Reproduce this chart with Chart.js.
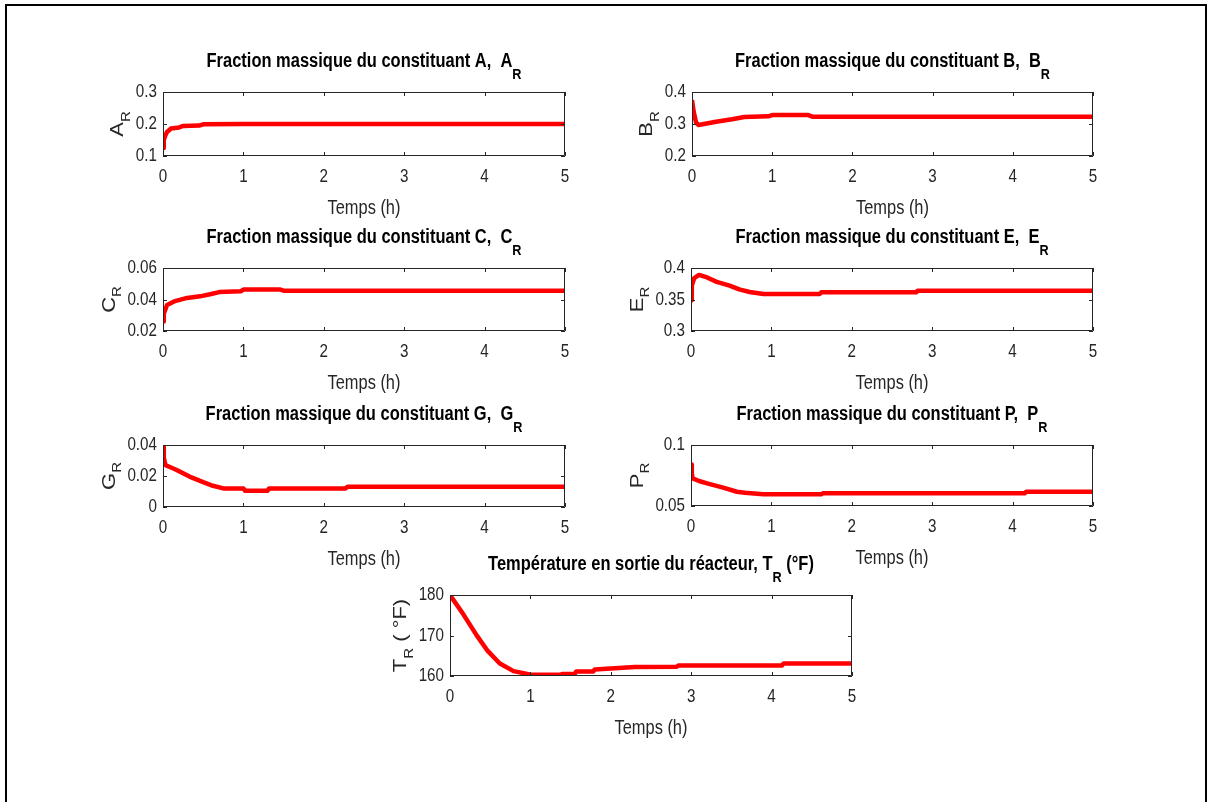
<!DOCTYPE html>
<html>
<head>
<meta charset="utf-8">
<script src="https://cdn.jsdelivr.net/npm/chart.js@4.4.1/dist/chart.umd.min.js"></script>
<style>
  html, body { margin: 0; padding: 0; background: #fff; }
  body { width: 1208px; height: 802px; position: relative; overflow: hidden; }
  #frame { position: absolute; left: 5px; top: 4px; width: 1198px; height: 900px;
           border: 2px solid #000; border-bottom: none; }
  canvas { position: absolute; }
</style>
</head>
<body>
<div id="frame"></div>
<script>
// time axis (h) and tick labels
const xTicks = [0, 1, 2, 3, 4, 5];

// A_R
const tA = [0, 0.01, 0.03, 0.05, 0.1, 0.2, 0.25, 0.45, 0.5, 1, 2, 3, 4, 5];
const aR = [0.125, 0.15, 0.165, 0.175, 0.186, 0.189, 0.194, 0.195, 0.199, 0.2, 0.2, 0.2, 0.2, 0.2];
const yTicksA = [0.1, 0.2, 0.3];

// B_R
const tB = [0, 0.02, 0.05, 0.08, 0.15, 0.3, 0.5, 0.65, 0.95, 1.0, 1.45, 1.5, 2, 3, 4, 5];
const bR = [0.375, 0.34, 0.305, 0.297, 0.3, 0.307, 0.315, 0.322, 0.324, 0.328, 0.328, 0.323, 0.323, 0.323, 0.323, 0.323];
const yTicksB = [0.2, 0.3, 0.4];

// C_R
const tC = [0, 0.01, 0.05, 0.15, 0.3, 0.46, 0.6, 0.7, 0.97, 1.0, 1.46, 1.5, 2, 3, 4, 5];
const cR = [0.026, 0.031, 0.0365, 0.039, 0.041, 0.042, 0.0435, 0.0447, 0.0453, 0.0463, 0.0463, 0.0456, 0.0456, 0.0456, 0.0456, 0.0456];
const yTicksC = [0.02, 0.04, 0.06];

// E_R
const tE = [0, 0.01, 0.04, 0.1, 0.2, 0.32, 0.48, 0.6, 0.73, 0.9, 1.6, 1.62, 2.8, 2.82, 4, 5];
const eR = [0.349, 0.372, 0.384, 0.389, 0.385, 0.378, 0.372, 0.366, 0.362, 0.3587, 0.3587, 0.3614, 0.3614, 0.364, 0.364, 0.364];
const yTicksE = [0.3, 0.35, 0.4];

// G_R
const tG = [0, 0.01, 0.03, 0.1, 0.17, 0.33, 0.5, 0.62, 0.75, 1.0, 1.02, 1.3, 1.32, 2.27, 2.3, 3, 4, 5];
const gR = [0.039, 0.032, 0.027, 0.0255, 0.0239, 0.0196, 0.016, 0.0137, 0.012, 0.012, 0.0105, 0.0105, 0.012, 0.012, 0.0131, 0.0131, 0.0131, 0.0131];
const yTicksG = [0, 0.02, 0.04];

// P_R
const tP = [0, 0.01, 0.02, 0.1, 0.2, 0.4, 0.57, 0.67, 0.9, 1.62, 1.64, 3, 4.15, 4.17, 5];
const pR = [0.084, 0.077, 0.0727, 0.0705, 0.0686, 0.065, 0.0617, 0.0609, 0.0596, 0.0596, 0.0604, 0.0604, 0.0604, 0.0617, 0.0617];
const yTicksP = [0.05, 0.1];

// T_R (°F)
const tT = [0, 0.17, 0.33, 0.46, 0.62, 0.79, 0.99, 1.37, 1.4, 1.55, 1.57, 1.78, 1.8, 2.05, 2.3, 2.82, 2.84, 4.13, 4.15, 5];
const tempR = [180, 175.1, 170.1, 166.4, 163.1, 161.2, 160.4, 160.3, 160.5, 160.5, 161.1, 161.1, 161.6, 161.9, 162.2, 162.3, 162.6, 162.6, 163.1, 163.1];
const yTicksT = [160, 170, 180];

// Arial-metric font squeezed sideways, like the narrowed original figure
const FONT = '"Liberation Sans", Arial, Helvetica, sans-serif';
const AXIS_COLOR = '#262626';

function setFont(ctx, size, bold) {
    ctx.font = (bold ? 'bold ' : '') + size + 'px ' + FONT;
}

// text pieces (some subscript) drawn centred on cx, scaled by sx / sy
function drawPieces(ctx, pieces, cx, cy, st) {
    const sy = st.sy || 1;
    let total = 0;
    pieces.forEach(p => {
        setFont(ctx, p.sub ? st.sub : st.size, st.bold);
        total += ctx.measureText(p.t).width * st.sx;
    });
    let x = cx - total / 2;
    ctx.textAlign = 'left';
    ctx.textBaseline = 'middle';
    pieces.forEach(p => {
        setFont(ctx, p.sub ? st.sub : st.size, st.bold);
        ctx.save();
        ctx.translate(x, p.sub ? cy + st.dy * sy : cy);
        ctx.scale(st.sx, sy);
        ctx.fillText(p.t, 0, 0);
        ctx.restore();
        x += ctx.measureText(p.t).width * st.sx;
    });
}

function drawLabel(ctx, text, x, y, align, size, sx) {
    setFont(ctx, size, false);
    ctx.save();
    ctx.translate(x, y);
    ctx.scale(sx, 1);
    ctx.textAlign = align;
    ctx.textBaseline = 'middle';
    ctx.fillText(text, 0, 0);
    ctx.restore();
}

const TITLE_ST = { size: 19.5, sub: 15, dy: 13, bold: true, sx: 0.845 };
const XLABEL_ST = { size: 20, sub: 14, dy: 10, bold: false, sx: 0.82 };
const YLABEL_ST = { size: 22, sub: 15, dy: 10, bold: false, sx: 1, sy: 0.85 };
const TICK_SIZE = 19, TICK_SX = 0.8;

const matlabAxes = {
    id: 'matlabAxes',
    afterDraw(chart, args, opts) {
        const { ctx, chartArea: a, scales: { x, y } } = chart;
        ctx.save();
        // box and inward ticks
        ctx.strokeStyle = AXIS_COLOR;
        ctx.lineWidth = 1;
        ctx.beginPath();
        ctx.rect(a.left + 0.5, a.top + 0.5, a.right - a.left - 1, a.bottom - a.top - 1);
        const tl = 4;
        x.ticks.forEach(t => {
            const px = Math.round(x.getPixelForValue(t.value)) + 0.5;
            ctx.moveTo(px, a.bottom); ctx.lineTo(px, a.bottom - tl);
            ctx.moveTo(px, a.top); ctx.lineTo(px, a.top + tl);
        });
        y.ticks.forEach(t => {
            const py = Math.round(y.getPixelForValue(t.value)) + 0.5;
            ctx.moveTo(a.left, py); ctx.lineTo(a.left + tl, py);
            ctx.moveTo(a.right, py); ctx.lineTo(a.right - tl, py);
        });
        ctx.stroke();

        // tick labels
        ctx.fillStyle = AXIS_COLOR;
        x.ticks.forEach(t => {
            drawLabel(ctx, t.label, x.getPixelForValue(t.value), a.bottom + 21, 'center', TICK_SIZE, TICK_SX);
        });
        let maxW = 0;
        setFont(ctx, TICK_SIZE, false);
        y.ticks.forEach(t => {
            maxW = Math.max(maxW, ctx.measureText(t.label).width * TICK_SX);
            drawLabel(ctx, t.label, a.left - 6, y.getPixelForValue(t.value), 'right', TICK_SIZE, TICK_SX);
        });

        const cx = (a.left + a.right) / 2;
        const cy = (a.top + a.bottom) / 2;

        // x label
        drawPieces(ctx, [{ t: 'Temps (h)' }], cx, a.bottom + 52, XLABEL_ST);

        // title
        ctx.fillStyle = '#000';
        drawPieces(ctx, opts.title, cx, a.top - 30, TITLE_ST);

        // y label, left of the widest tick label
        ctx.fillStyle = AXIS_COLOR;
        ctx.translate(a.left - 6 - maxW - 18, cy);
        ctx.rotate(-Math.PI / 2);
        drawPieces(ctx, opts.ylabel, 0, 0, YLABEL_ST);
        ctx.restore();
    }
};

const PAD_TOP = 50, Y_W = 85, X_H = 75, PAD_R = 15;

function makePlot(box, times, values, yTicks, title, ylabel) {
    const cv = document.createElement('canvas');
    const w = box.w + Y_W + PAD_R, h = box.h + PAD_TOP + X_H;
    cv.width = w; cv.height = h;
    cv.style.left = (box.l - Y_W) + 'px';
    cv.style.top = (box.t - PAD_TOP) + 'px';
    cv.style.width = w + 'px';
    cv.style.height = h + 'px';
    document.body.appendChild(cv);

    const points = times.map((t, i) => ({ x: t, y: values[i] }));

    new Chart(cv.getContext('2d'), {
        type: 'line',
        data: {
            datasets: [{
                data: points,
                borderColor: '#ff0000',
                borderWidth: 4.5,
                pointRadius: 0,
                tension: 0,
                fill: false,
                borderJoinStyle: 'round'
            }]
        },
        options: {
            responsive: false,
            animation: false,
            devicePixelRatio: 1,
            layout: { padding: { top: PAD_TOP, right: PAD_R, left: 0, bottom: 0 } },
            plugins: {
                legend: { display: false },
                tooltip: { enabled: false },
                matlabAxes: { title: title, ylabel: ylabel }
            },
            scales: {
                x: {
                    type: 'linear',
                    min: xTicks[0],
                    max: xTicks[xTicks.length - 1],
                    afterBuildTicks: s => { s.ticks = xTicks.map(v => ({ value: v })); },
                    afterFit: s => { s.height = X_H; },
                    grid: { display: false, drawTicks: false },
                    border: { display: false },
                    ticks: { display: false, autoSkip: false, callback: v => String(v) }
                },
                y: {
                    type: 'linear',
                    min: yTicks[0],
                    max: yTicks[yTicks.length - 1],
                    afterBuildTicks: s => { s.ticks = yTicks.map(v => ({ value: v })); },
                    afterFit: s => { s.width = Y_W; },
                    grid: { display: false, drawTicks: false },
                    border: { display: false },
                    ticks: { display: false, autoSkip: false, callback: v => String(+v.toFixed(4)) }
                }
            }
        },
        plugins: [matlabAxes]
    });
}

const sub = t => ({ t: t, sub: true });
const txt = t => ({ t: t });

makePlot({ l: 163, t: 92, w: 402, h: 64 }, tA, aR, yTicksA,
    [txt('Fraction massique du constituant A,  A'), sub('R')], [txt('A'), sub('R')]);
makePlot({ l: 692, t: 92, w: 401, h: 64 }, tB, bR, yTicksB,
    [txt('Fraction massique du constituant B,  B'), sub('R')], [txt('B'), sub('R')]);
makePlot({ l: 163, t: 268, w: 402, h: 63 }, tC, cR, yTicksC,
    [txt('Fraction massique du constituant C,  C'), sub('R')], [txt('C'), sub('R')]);
makePlot({ l: 691, t: 268, w: 402, h: 63 }, tE, eR, yTicksE,
    [txt('Fraction massique du constituant E,  E'), sub('R')], [txt('E'), sub('R')]);
makePlot({ l: 163, t: 445, w: 402, h: 62 }, tG, gR, yTicksG,
    [txt('Fraction massique du constituant G,  G'), sub('R')], [txt('G'), sub('R')]);
makePlot({ l: 691, t: 445, w: 402, h: 61 }, tP, pR, yTicksP,
    [txt('Fraction massique du constituant P,  P'), sub('R')], [txt('P'), sub('R')]);
makePlot({ l: 450, t: 595, w: 402, h: 81 }, tT, tempR, yTicksT,
    [txt('Température en sortie du réacteur, T'), sub('R'), txt(' (°F)')], [txt('T'), sub('R'), txt(' ( °F)')]);
</script>
</body>
</html>
